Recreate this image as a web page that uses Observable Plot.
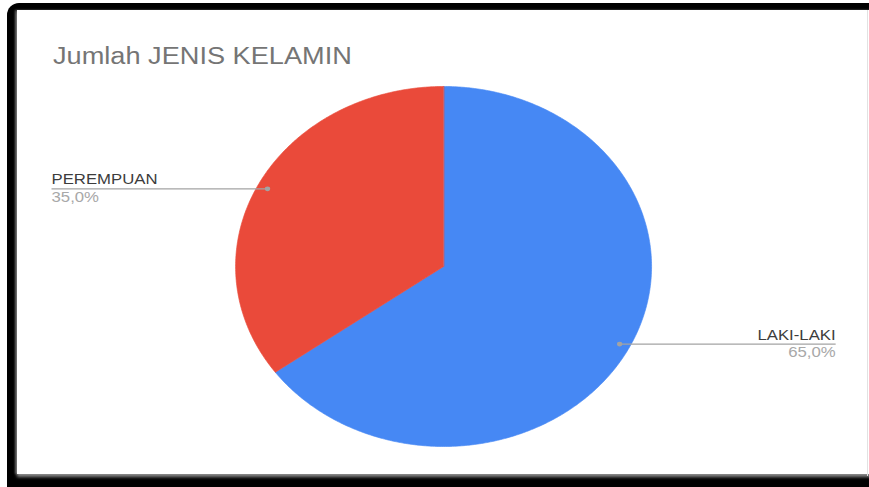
<!DOCTYPE html>
<html>
<head>
<meta charset="utf-8">
<script src="https://cdn.jsdelivr.net/npm/d3@7"></script>
<script src="https://cdn.jsdelivr.net/npm/@observablehq/plot@0.6"></script>
<style>
  html, body { margin: 0; padding: 0; background: #fff; width: 869px; height: 487px; overflow: hidden; }
  #frame { position: absolute; left: 7px; top: 3px; width: 880px; height: 500px; background: #000; border-top-left-radius: 12px; }
  #card { position: absolute; left: 17px; top: 10px; width: 870px; height: 464px; background: #fff;
          box-shadow: 0 3px 3px rgba(150,150,150,0.9), -2px 0 2px rgba(150,150,150,0.6); }
  #edge { position: absolute; left: 867px; top: 10px; width: 1px; height: 466px; background: #e2e2e2; }
  #stretch { position: absolute; left: 0; top: 0; transform-origin: 0 0; }
  #title { position: absolute; font-family: "Liberation Sans", Arial, sans-serif; font-size: 23.5px; line-height: 23.5px;
           color: #757575; white-space: nowrap; }
  #chart { position: absolute; left: 0; top: 0; }
</style>
</head>
<body>
<div id="frame"></div>
<div id="card"></div>
<div id="edge"></div>
<div id="stretch">
  <div id="title">Jumlah JENIS KELAMIN</div>
  <div id="chart"></div>
</div>
<script>
// ---- data ----
const title = "Jumlah JENIS KELAMIN";
const categories = ["LAKI-LAKI", "PEREMPUAN"];
const values = [65, 35];
const percentLabels = ["65,0%", "35,0%"];
const colors = ["#4688F4", "#EA4A3A"];

// ---- layout ----
const W = 869, H = 487;
const stretch = 208 / 180;           // the picture is stretched horizontally
const innerW = W / stretch;
const cx = 443 / stretch, cy = 266, R = 180;
const labelEdge = 1.885;             // label column edge, in pie radii
const dotR = 0.95;

const stretchEl = document.getElementById("stretch");
stretchEl.style.width = innerW + "px";
stretchEl.style.height = H + "px";
stretchEl.style.transform = `scaleX(${stretch})`;
const titleEl = document.getElementById("title");
titleEl.textContent = title;
titleEl.style.left = (53 / stretch) + "px";
titleEl.style.top = "44.5px";

const data = categories.map((c, i) => ({category: c, value: values[i], pct: percentLabels[i], color: colors[i]}));
const arcs = d3.pie().sort(null).value(d => d.value)(data);

// wedge outlines (unit circle, y up, angles clockwise from 12 o'clock)
const wedgePts = [];
for (const a of arcs) {
  wedgePts.push({category: a.data.category, x: 0, y: 0});
  const n = Math.max(2, Math.ceil((a.endAngle - a.startAngle) / (Math.PI / 360)));
  for (let k = 0; k <= n; k++) {
    const t = a.startAngle + (a.endAngle - a.startAngle) * k / n;
    wedgePts.push({category: a.data.category, x: Math.sin(t), y: Math.cos(t)});
  }
}

const labels = arcs.map(a => {
  const m = (a.startAngle + a.endAngle) / 2;
  const dx = Math.sin(m) * dotR, dy = Math.cos(m) * dotR;
  const side = dx < 0 ? -1 : 1;
  return {category: a.data.category, pct: a.data.pct, dx, dy, lx: side * labelEdge, side};
});

const font = "Liberation Sans, Arial, sans-serif";
const chart = Plot.plot({
  width: innerW,
  height: H,
  margin: 0,
  style: {background: "transparent", overflow: "visible"},
  x: {type: "linear", domain: [-1, 1], range: [cx - R, cx + R], axis: null},
  y: {type: "linear", domain: [-1, 1], range: [cy + R, cy - R], axis: null},
  color: {domain: categories, range: colors},
  marks: [
    Plot.line(wedgePts, {x: "x", y: "y", z: "category", fill: "category", stroke: "category", strokeWidth: 0.6, curve: "linear-closed"}),
    Plot.link(labels, {x1: "dx", y1: "dy", x2: "lx", y2: "dy", stroke: "#a3a3a3", strokeWidth: 1.2}),
    Plot.dot(labels, {x: "dx", y: "dy", r: 2.3, fill: "#a3a3a3", stroke: "none"}),
    Plot.text(labels.filter(d => d.side < 0), {x: "lx", y: "dy", text: "category", textAnchor: "start", lineAnchor: "bottom", dy: -4.5, fontSize: 14.5, fontFamily: font, fill: "#3c3c3c"}),
    Plot.text(labels.filter(d => d.side > 0), {x: "lx", y: "dy", text: "category", textAnchor: "end", lineAnchor: "bottom", dy: -4.5, fontSize: 14.5, fontFamily: font, fill: "#3c3c3c"}),
    Plot.text(labels.filter(d => d.side < 0), {x: "lx", y: "dy", text: "pct", textAnchor: "start", lineAnchor: "top", dy: 2.5, fontSize: 14.5, fontFamily: font, fill: "#a8a8a8"}),
    Plot.text(labels.filter(d => d.side > 0), {x: "lx", y: "dy", text: "pct", textAnchor: "end", lineAnchor: "top", dy: 2.5, fontSize: 14.5, fontFamily: font, fill: "#a8a8a8"})
  ]
});
document.getElementById("chart").appendChild(chart);
</script>
</body>
</html>
